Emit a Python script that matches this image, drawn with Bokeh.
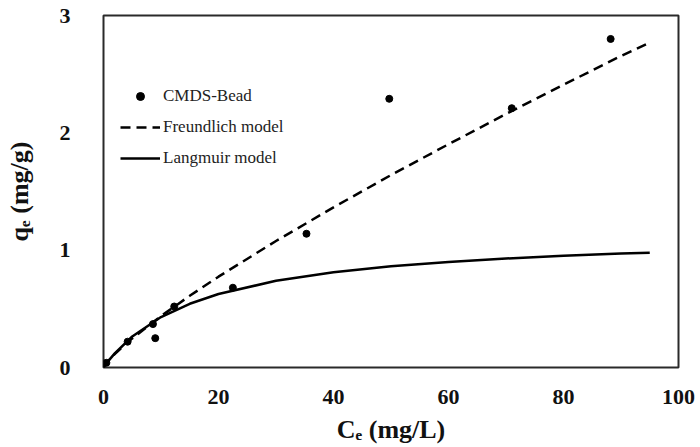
from bokeh.plotting import figure
from bokeh.models import Range1d, FixedTicker, Legend, LegendItem
from bokeh.embed import file_html
from bokeh.resources import INLINE

# measured data points
ce_data = [0.5, 4.2, 8.6, 9.0, 12.3, 22.5, 35.3, 49.7, 71.0, 88.2]
qe_data = [0.04, 0.22, 0.37, 0.25, 0.52, 0.68, 1.14, 2.29, 2.21, 2.80]

# model curves
ce_model = [0, 0.5, 1, 2, 5, 10, 15, 20, 30, 40, 50, 60, 70, 80, 90, 95]
qe_freundlich = [0, 0.038, 0.066, 0.117, 0.248, 0.438, 0.611, 0.774, 1.078,
                 1.365, 1.640, 1.903, 2.160, 2.410, 2.655, 2.77]
qe_langmuir = [0, 0.033, 0.065, 0.122, 0.264, 0.430, 0.543, 0.626, 0.739,
               0.811, 0.863, 0.900, 0.929, 0.953, 0.971, 0.979]

x_ticks = [0, 20, 40, 60, 80, 100]
y_ticks = [0, 1, 2, 3]

x_title = "C\u2091 (mg/L)"
y_title = "q\u2091 (mg/g)"

SERIF = "Liberation Serif"

p = figure(width=700, height=447, output_backend="svg", toolbar_location=None,
           x_range=Range1d(0, 100), y_range=Range1d(0, 3),
           min_border_left=103, min_border_right=22, min_border_top=15,
           min_border_bottom=80)
p.background_fill_color = "white"
p.border_fill_color = "white"
p.outline_line_color = "#2a2a2a"
p.outline_line_width = 2
p.grid.visible = False

for ax in (p.xaxis[0], p.yaxis[0]):
    ax.axis_line_color = None
    ax.major_tick_line_color = None
    ax.minor_tick_line_color = None
    ax.major_label_text_font = SERIF
    ax.major_label_text_font_style = "bold"
    ax.major_label_text_font_size = "22px"
    ax.major_label_text_color = "#111111"
    ax.axis_label_text_font = SERIF
    ax.axis_label_text_font_style = "bold"
    ax.axis_label_text_font_size = "26px"
    ax.axis_label_text_color = "#111111"
p.xaxis.ticker = FixedTicker(ticks=x_ticks)
p.yaxis.ticker = FixedTicker(ticks=y_ticks)
p.xaxis.major_label_standoff = 16
p.yaxis.major_label_standoff = 27
p.xaxis.axis_label = x_title
p.yaxis.axis_label = y_title
p.xaxis.axis_label_standoff = 8
p.yaxis.axis_label_standoff = 23

r_fr = p.line(ce_model, qe_freundlich, line_color="black", line_width=2.5,
              line_dash="10 6")
r_la = p.line(ce_model, qe_langmuir, line_color="black", line_width=2.5)
r_pts = p.scatter(ce_data, qe_data, size=7, color="black")

legend = Legend(items=[
    LegendItem(label="CMDS-Bead", renderers=[r_pts]),
    LegendItem(label="Freundlich model", renderers=[r_fr]),
    LegendItem(label="Langmuir model", renderers=[r_la]),
], location=(17, 199))
legend.border_line_color = None
legend.background_fill_alpha = 0
legend.padding = 0
legend.margin = 0
legend.glyph_width = 40
legend.glyph_height = 20
legend.label_height = 20
legend.spacing = 11
legend.label_standoff = 3
legend.label_text_font = SERIF
legend.label_text_font_size = "17px"
legend.label_text_color = "#222222"
p.add_layout(legend, "center")

open("out.html", "w").write(file_html(p, INLINE))
